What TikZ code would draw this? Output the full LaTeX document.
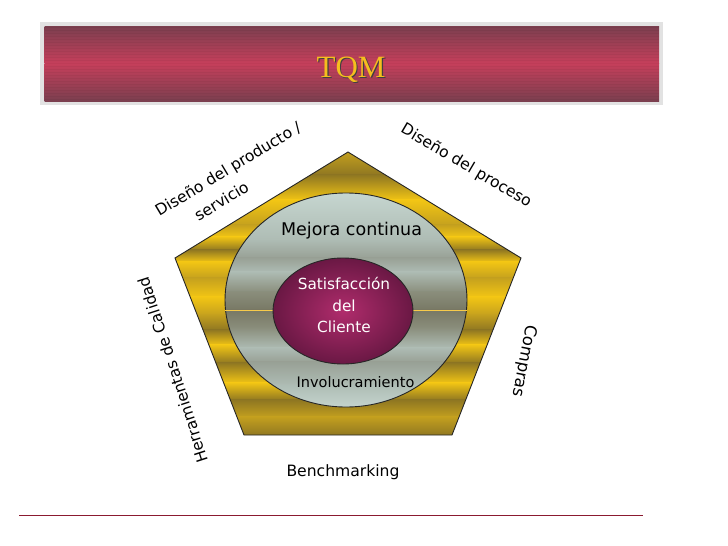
\documentclass[tikz,border=0pt]{standalone}
\usepackage{fontspec}
\setmainfont{DejaVu Sans}
\newfontfamily\tqmfont{Liberation Serif}

\definecolor{framegray}{HTML}{E2E2E2}
\definecolor{bannerdark}{HTML}{7B3F4F}
\definecolor{bannerlight}{HTML}{C63F5B}
\definecolor{tqmgold}{HTML}{F5BE1E}
\definecolor{golddark}{HTML}{8E7622}
\definecolor{goldmid}{HTML}{C4A01E}
\definecolor{goldlight}{HTML}{F3C614}
\definecolor{grayA}{HTML}{C6D6D0}
\definecolor{grayB}{HTML}{AEBCB4}
\definecolor{grayC}{HTML}{98A095}
\definecolor{grayD}{HTML}{8A8E7C}
\definecolor{grayE}{HTML}{787864}
\definecolor{rubylight}{HTML}{B02C6C}
\definecolor{rubydark}{HTML}{6A1844}
\definecolor{rulered}{HTML}{8B1A30}

\tikzset{
  lbl/.style={font=\fontsize{15.6}{24}\selectfont, inner sep=0pt},
  outline/.style={draw=black!85, line width=0.9pt},
}

\begin{document}
\begin{tikzpicture}[x=1pt,y=-1pt]
  \useasboundingbox (0,0) rectangle (728,546);

  % banner
  \fill[framegray] (40,22) rectangle (663,105);
  \shade[top color=bannerdark, bottom color=bannerlight] (44.5,26) rectangle (659,63.5);
  \shade[top color=bannerlight, bottom color=bannerdark] (44.5,63) rectangle (659,101);
  \foreach \y in {27,30,...,100}
    \draw[black, opacity=0.04, line width=1pt] (44.5,\y)--(659,\y);
  \node[font=\tqmfont\fontsize{31}{31}\selectfont, text=black!75, anchor=base] (tqmshadow) at (352.2,78.2) {TQM};
  \node[font=\tqmfont\fontsize{31}{31}\selectfont, text=tqmgold, anchor=base] (tqm) at (351,77) {TQM};

  % pentagon
  \coordinate (ptop) at (348,152);
  \coordinate (pleft) at (175,258);
  \coordinate (pright) at (521,258);
  \coordinate (pbl) at (244,435);
  \coordinate (pbr) at (452,435);
  \begin{scope}
    \clip (ptop)--(pright)--(pbr)--(pbl)--(pleft)--cycle;
    \foreach \ya/\ca/\yb/\cb in {152/goldmid/175/golddark, 175/golddark/200/goldlight,
        200/goldlight/225/goldmid, 225/goldmid/237/goldlight, 237/goldlight/250/golddark,
        250/golddark/262/goldlight, 262/goldlight/278/goldmid, 278/goldmid/297/goldlight,
        297/goldlight/315/goldmid, 315/goldmid/330/golddark, 330/golddark/345/goldlight,
        345/goldlight/363/golddark, 363/golddark/383/goldlight, 383/goldlight/400/golddark,
        400/golddark/417/goldmid, 417/goldmid/436/golddark}
      \shade[top color=\ca, bottom color=\cb] (170,\ya-0.5) rectangle (526,\yb+0.5);
  \end{scope}
  \draw[outline] (ptop)--(pright)--(pbr)--(pbl)--(pleft)--cycle;

  % outer ellipse
  \begin{scope}
    \clip (346,300) ellipse (121 and 107);
    \foreach \ya/\ca/\yb/\cb in {193/grayA/240/grayB, 240/grayB/258/grayC,
        258/grayC/272/grayB, 272/grayB/292/grayD, 292/grayD/310/grayE,
        310/grayE/328/grayD, 328/grayD/348/grayB, 348/grayB/362/grayC,
        362/grayC/385/grayB, 385/grayB/409/grayA}
      \shade[top color=\ca, bottom color=\cb] (224,\ya-0.5) rectangle (468,\yb+0.5);
  \end{scope}
  \draw[outline] (346,300) ellipse (121 and 107);
  \draw[color=tqmgold!80!white, line width=0.8pt] (225,310)--(467,310);

  % inner ellipse
  \shadedraw[inner color=rubylight, outer color=rubydark, outline] (343,311) ellipse (70 and 53);

  \node[lbl, font=\fontsize{17.5}{20}\selectfont, anchor=base] (mejora) at (351.5,235) {Mejora continua};
  \node[lbl, text=white, align=center, font=\fontsize{15.3}{21.7}\selectfont] (cliente) at (344,305) {Satisfacción\\del\\Cliente};
  \node[lbl, font=\fontsize{14.5}{18}\selectfont, anchor=base] (involucra) at (355.5,387) {Involucramiento};
  \node[lbl, anchor=base] (bench) at (343,476) {Benchmarking};

  \node[lbl, rotate=31, align=center] (disproducto) at (234,179) {Diseño del producto /\\servicio\hspace*{44pt}};
  \node[lbl, rotate=-30.6] (disproceso) at (466,166) {Diseño del proceso};
  \node[lbl, rotate=108] (herramientas) at (173,370) {Herramientas de Calidad};
  \node[lbl, rotate=-101, font=\fontsize{16.5}{20}\selectfont] (compras) at (524,361) {Compras};

  \draw[rulered, line width=1pt] (19,515)--(643,515);
\end{tikzpicture}
\end{document}
